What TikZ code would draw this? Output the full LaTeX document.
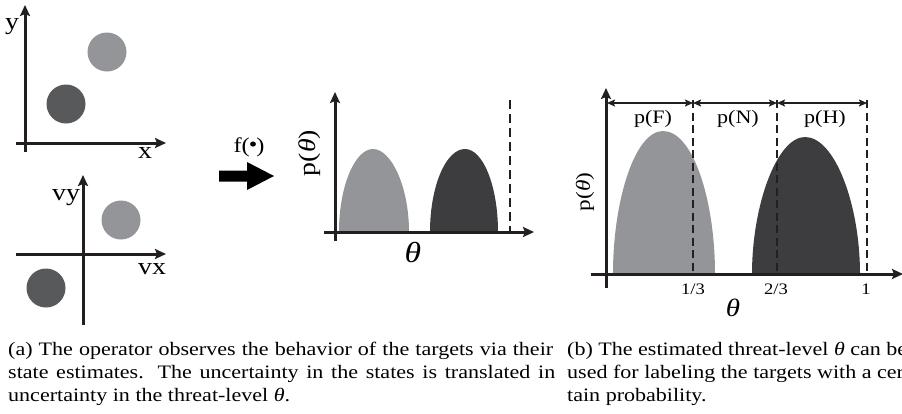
\documentclass[tikz,border=0pt]{standalone}
\usepackage{fontspec}
\setmainfont{Liberation Serif}[FakeStretch=1.16]
\usetikzlibrary{arrows.meta}
\definecolor{lightg}{HTML}{939598}
\definecolor{darkg}{HTML}{3D3D3F}
\definecolor{darkc}{HTML}{58595B}
\definecolor{axisc}{HTML}{231F20}
\newcommand{\thet}{\textit{θ}}
\tikzset{
  axisln/.style={draw=axisc, line width=3pt, -{Stealth[length=11pt,width=10pt,inset=2pt]}},
  dimarrow/.style={draw=axisc, line width=1.8pt, {Stealth[length=8pt,width=7pt,inset=1.5pt]}-{Stealth[length=8pt,width=7pt,inset=1.5pt]}},
  dashline/.style={draw=axisc, line width=2.5pt, dash pattern=on 9pt off 5pt},
  lbl/.style={inner sep=0pt, font=\fontsize{24}{26}\selectfont},
  plbl/.style={inner sep=0pt, font=\fontsize{19}{21}\selectfont},
  ticklbl/.style={inner sep=0pt, font=\fontsize{16}{18}\selectfont},
  captxt/.style={inner sep=0pt, anchor=base west, font=\fontsize{19}{22}\selectfont},
}
\begin{document}
\begin{tikzpicture}[x=1pt,y=-1pt]
\clip (0,0) rectangle (902,413);
\useasboundingbox (0,0) rectangle (902,413);
\fill[white] (0,0) rectangle (902,413);

% ---- panel 1: x-y
\coordinate (p1y0) at (25,152); \coordinate (p1y1) at (25,5);
\coordinate (p1x0) at (16,143); \coordinate (p1x1) at (166,143);
\draw[axisln] (p1y0) -- (p1y1);
\draw[axisln] (p1x0) -- (p1x1);
\node[lbl] (ly) at (12,27) {y};
\node[lbl] (lx) at (145,153) {x};
\fill[lightg] (107,52) circle (19.5);
\fill[darkc] (66,104) circle (19.5);

% ---- panel 2: vx-vy
\coordinate (p2y0) at (83,325); \coordinate (p2y1) at (83,175);
\coordinate (p2x0) at (16,254); \coordinate (p2x1) at (166,254);
\draw[axisln] (p2y0) -- (p2y1);
\draw[axisln] (p2x0) -- (p2x1);
\node[lbl] (lvy) at (66,198) {vy};
\node[lbl] (lvx) at (152,269) {vx};
\fill[lightg] (121,220) circle (19.5);
\fill[darkc] (46,288) circle (19.5);

% ---- block arrow f(.)
\fill[black] (219,170.5) -- (247,170.5) -- (247,162) -- (274,176) -- (247,190) -- (247,181.5) -- (219,181.5) -- cycle;
\node[lbl, font=\fontsize{21}{23}\selectfont] (lf) at (249,147) {f(\kern-0.05em\raisebox{0.05em}{\textbullet}\kern-0.05em)};

% ---- panel 3
\fill[lightg] (339,232) .. controls (339,186) and (355,149) .. (373,149)
  .. controls (391,149) and (409,186) .. (409,232) -- cycle;
\fill[darkg] (430,232) .. controls (430,186) and (446,149) .. (465,149)
  .. controls (483,149) and (498,186) .. (498,232) -- cycle;
\coordinate (p3d0) at (510,100); \coordinate (p3d1) at (510,232);
\draw[dashline] (p3d0) -- (p3d1);
\coordinate (p3y0) at (335,241); \coordinate (p3y1) at (335,92);
\coordinate (p3x0) at (324,232); \coordinate (p3x1) at (534,232);
\draw[axisln] (p3y0) -- (p3y1);
\draw[axisln] (p3x0) -- (p3x1);
\node[lbl, rotate=90, font=\fontsize{24}{26}\selectfont] (lp3) at (310,153) {p(\thet)};
\node[lbl, font=\fontsize{29}{31}\selectfont] (lt3) at (413,252) {\thet};

% ---- panel 4
\fill[lightg] (613,274) .. controls (613,200) and (635,131) .. (663,131)
  .. controls (693,131) and (715,200) .. (715,274) -- cycle;
\fill[darkg] (752,274) .. controls (752,205) and (777,137) .. (805,137)
  .. controls (835,137) and (860,205) .. (860,274) -- cycle;
\coordinate (d1a) at (693,100); \coordinate (d1b) at (693,274);
\coordinate (d2a) at (777,100); \coordinate (d2b) at (777,274);
\coordinate (d3a) at (867,100); \coordinate (d3b) at (867,274);
\draw[dashline, line width=2.2pt, dash pattern=on 8pt off 4.5pt] (d1a) -- (d1b);
\draw[dashline, line width=2.2pt, dash pattern=on 8pt off 4.5pt] (d2a) -- (d2b);
\draw[dashline, line width=2.2pt, dash pattern=on 8pt off 4.5pt] (d3a) -- (d3b);
\coordinate (p4y0) at (606,288); \coordinate (p4y1) at (606,88);
\coordinate (p4x0) at (591,274); \coordinate (p4x1) at (903,274);
\draw[axisln] (p4y0) -- (p4y1);
\draw[axisln] (p4x0) -- (p4x1);
\coordinate (m0) at (607,103); \coordinate (m1) at (693,103);
\coordinate (m2) at (777,103); \coordinate (m3) at (867,103);
\draw[dimarrow] (m0) -- (m1);
\draw[dimarrow] (m1) -- (m2);
\draw[dimarrow] (m2) -- (m3);
\node[plbl] (pF) at (653,119) {p(F)};
\node[plbl] (pN) at (738,119) {p(N)};
\node[plbl] (pH) at (825,119) {p(H)};
\node[ticklbl] (t1) at (693,289) {1/3};
\node[ticklbl] (t2) at (776,289) {2/3};
\node[ticklbl] (t3) at (866,289) {1};
\node[lbl, font=\fontsize{25}{27}\selectfont] (lt4) at (733,308) {\thet};
\node[lbl, rotate=90, font=\fontsize{20}{22}\selectfont] (lp4) at (585,192) {p(\thet)};

% ---- captions
\node[captxt] (ca1) at (8,355) {\makebox[545pt][s]{(a) The operator observes the behavior of the targets via their}};
\node[captxt] (ca2) at (8,378) {\makebox[547pt][s]{state estimates. The uncertainty in the states is translated in}};
\node[captxt] (ca3) at (8,401) {uncertainty in the threat-level \thet.};
\node[captxt] (cb1) at (567,355) {(b) The estimated threat-level \thet{} can be};
\node[captxt] (cb2) at (567,378) {used for labeling the targets with a cer-};
\node[captxt] (cb3) at (567,401) {tain probability.};
\end{tikzpicture}
\end{document}
